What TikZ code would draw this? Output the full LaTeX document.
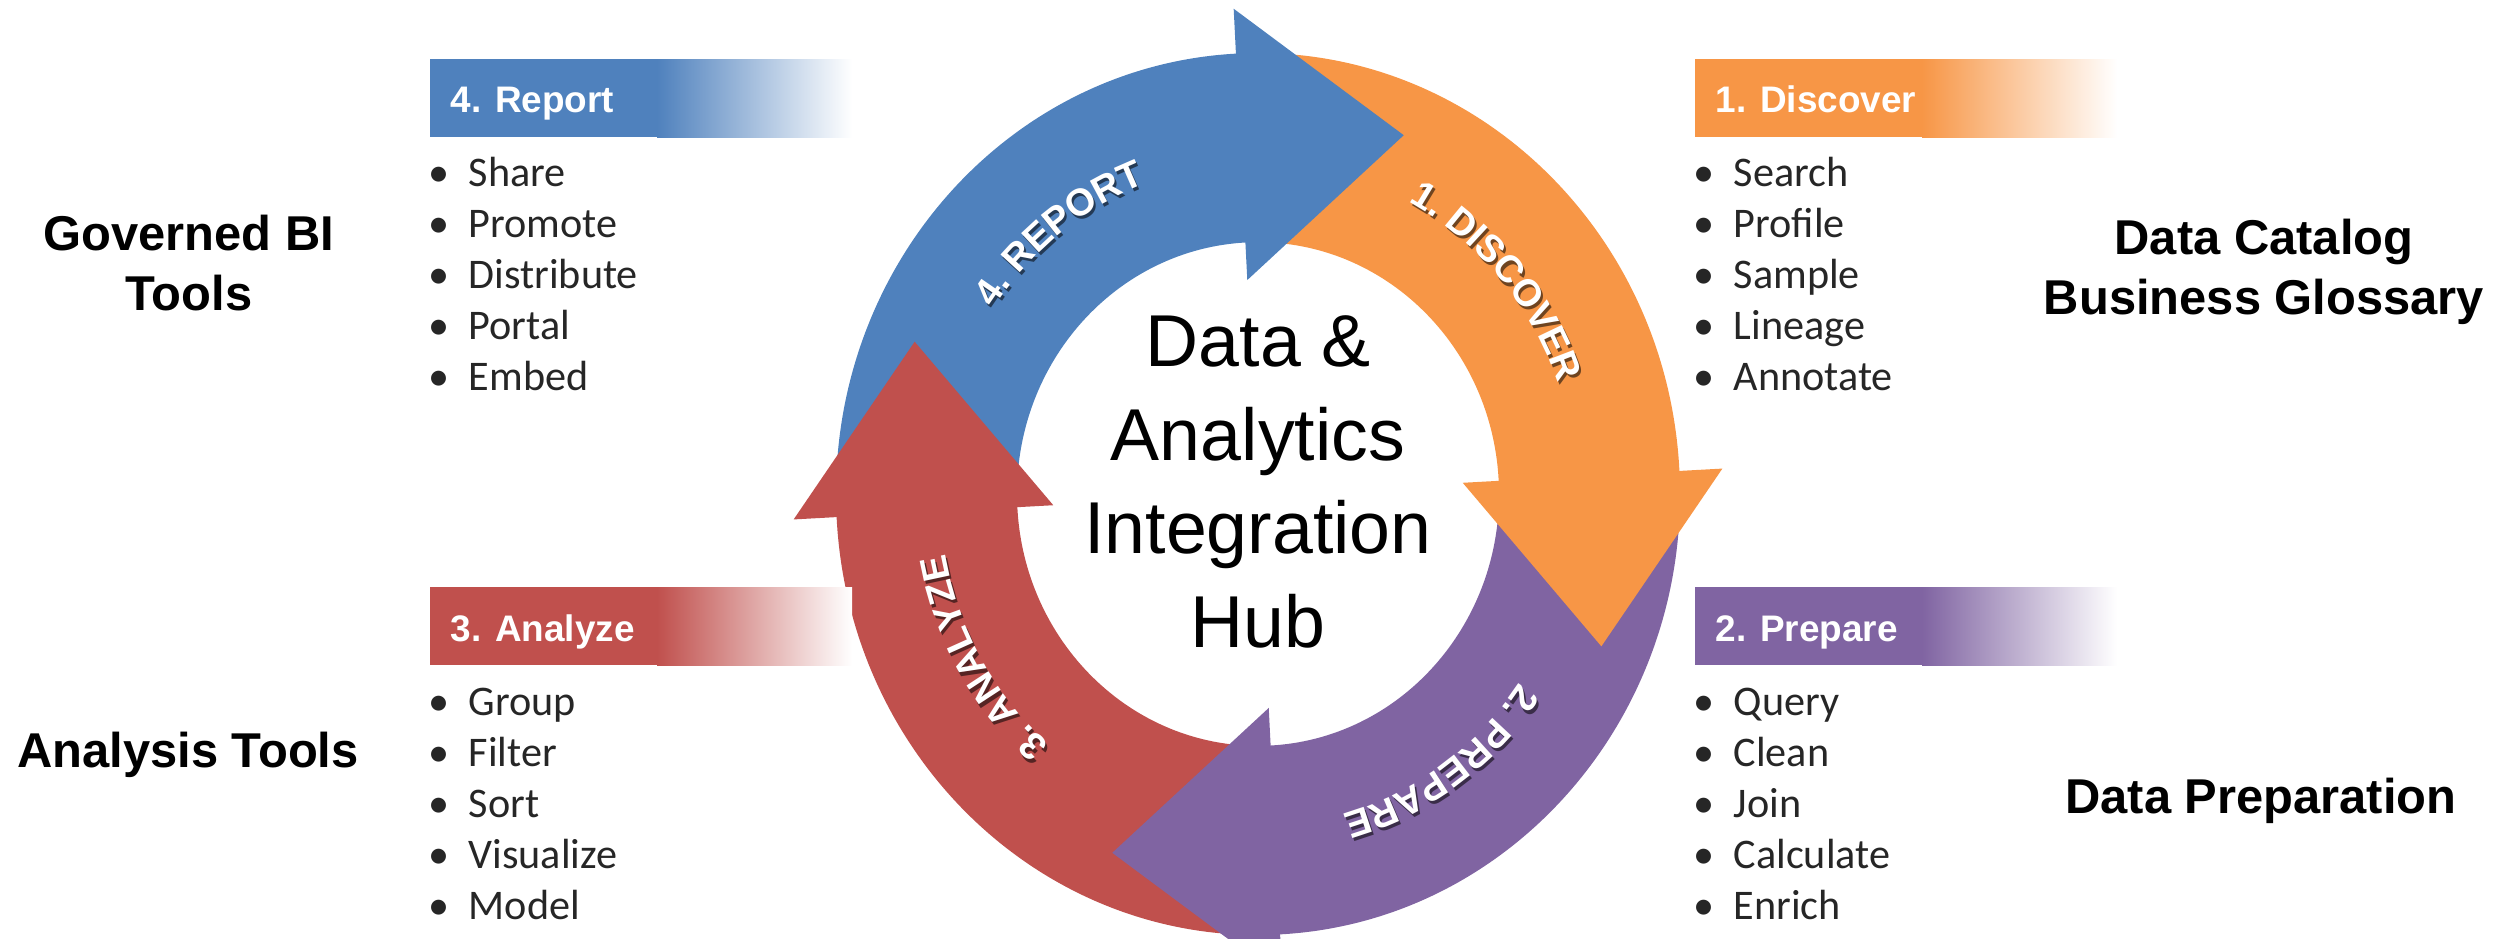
\documentclass[tikz,border=0pt]{standalone}
\usepackage{fontspec}
\setmainfont{Liberation Sans}
\newfontfamily\calibri{Carlito}
\usepackage{tikz}
\usetikzlibrary{decorations.text}

\definecolor{discover}{HTML}{F79646}
\definecolor{prepare}{HTML}{8064A2}
\definecolor{analyze}{HTML}{C0504D}
\definecolor{report}{HTML}{4F81BD}

\newcommand{\arrowfont}{\bfseries\fontsize{10.8}{12}\selectfont}
\newcommand{\arclabel}[3]{%
	\path[shift={(2,-3)}, decorate, decoration={text along path, text align=center, text color=#2!45!black, text={|\arrowfont|#3}}] ({#1+40}:318) arc[start angle=#1+40, end angle=#1-40, radius=318];
	\path[decorate, decoration={text along path, text align=center, text color=white, text={|\arrowfont|#3}}] ({#1+40}:318) arc[start angle=#1+40, end angle=#1-40, radius=318];
}

\begin{document}
\begin{tikzpicture}[x=0.01cm, y=0.01cm,
	item/.style={anchor=base west, inner sep=0, text=black!85, font=\calibri\fontsize{12}{14}\selectfont},
	head/.style={anchor=base west, inner sep=0, text=white, font=\bfseries\fontsize{10.5}{12}\selectfont},
	tool/.style={inner sep=0, align=center, font=\bfseries\fontsize{13.9}{17.1}\selectfont},
	hub/.style={inner sep=0, align=center, font=\fontsize{20.9}{26.6}\selectfont}]
	\useasboundingbox (0,0) rectangle (2504,938);

	\begin{scope}[shift={(1258,444)}, yscale=1.045]
		\foreach \col/\b in {discover/3, prepare/-87, analyze/-177, report/-267}
			\fill[\col] ({\b+88}:422) arc[start angle=\b+88, end angle=\b-0.5, radius=422] -- ({\b-0.5}:241) arc[start angle=\b-0.5, end angle=\b+88, radius=241] -- cycle;
		\foreach \col/\b in {discover/3, prepare/-87, analyze/-177, report/-267}
			\fill[\col] (\b:465) -- ({\b-26}:373) -- (\b:205) -- cycle;

		\arclabel{41}{discover}{1. DISCOVER}
		\arclabel{-55}{prepare}{2. PREPARE}
		\arclabel{-150}{analyze}{3. ANALYZE}
		\arclabel{128}{report}{4. REPORT}
	\end{scope}
	\node[hub] (hub) at (1258,456) {Data \&\\Analytics\\Integration\\Hub};

	\foreach \col/\x/\y in {report/430/801, analyze/430/273, discover/1695/801, prepare/1695/273} {
		\fill[\col] (\x,\y) rectangle ++(229,78);
		\shade[left color=\col, right color=white] (\x+227,\y) rectangle ++(195,78);
	}
	\node[head] (h4) at (450,826) {4. Report};
	\node[head] (h3) at (450,297) {3. Analyze};
	\node[head] (h1) at (1715,826) {1. Discover};
	\node[head] (h2) at (1715,297) {2. Prepare};

	\foreach \t [count=\i from 0] in {Share,Promote,Distribute,Portal,Embed}
		\node[item] (rep\i) at (428,{752-51*\i}) {\makebox[0.4cm][l]{\textbullet}\t};
	\foreach \t [count=\i from 0] in {Group,Filter,Sort,Visualize,Model}
		\node[item] (ana\i) at (428,{223-51*\i}) {\makebox[0.4cm][l]{\textbullet}\t};
	\foreach \t [count=\i from 0] in {Search,Profile,Sample,Lineage,Annotate}
		\node[item] (dis\i) at (1693,{752-51*\i}) {\makebox[0.4cm][l]{\textbullet}\t};
	\foreach \t [count=\i from 0] in {Query,Clean,Join,Calculate,Enrich}
		\node[item] (pre\i) at (1693,{223-51*\i}) {\makebox[0.4cm][l]{\textbullet}\t};

	\node[tool] (bi) at (189,675) {Governed BI\\Tools};
	\node[tool, anchor=base] (analysis) at (188,171) {Analysis Tools};
	\node[tool] (catalog) at (2264,666) {Data Catalog\\Business Glossary};
	\node[tool, anchor=base] (preparation) at (2261,125) {Data Preparation};
\end{tikzpicture}
\end{document}
